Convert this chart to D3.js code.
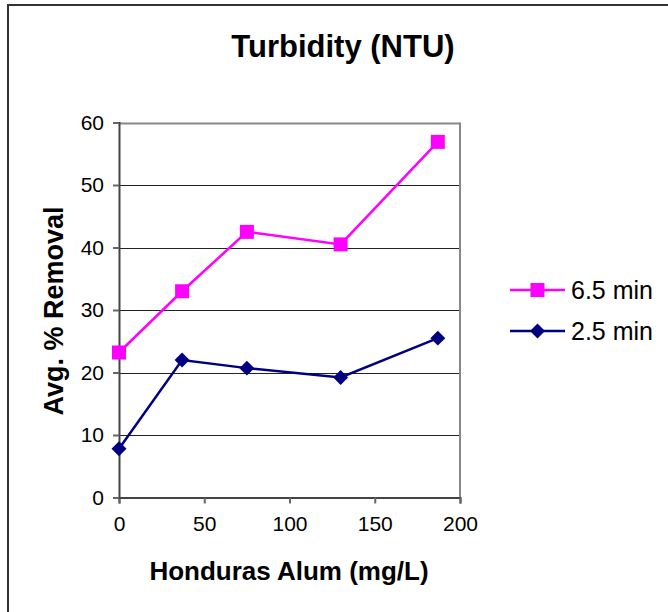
<!DOCTYPE html>
<html><head><meta charset="utf-8">
<script src="https://cdn.jsdelivr.net/npm/d3@7"></script>
<style>body{margin:0;background:#fff}svg{display:block}text{font-family:"Liberation Sans",Arimo,Arial,sans-serif}</style>
</head><body>
<script>
const doses = [0, 37, 75, 130, 187];
const series65 = [23.2, 33.0, 42.5, 40.5, 56.9];
const series25 = [7.8, 22.0, 20.7, 19.2, 25.5];
const seriesNames = ["6.5 min", "2.5 min"];
const xTicks = [0, 50, 100, 150, 200];
const yTicks = [0, 10, 20, 30, 40, 50, 60];
const title = "Turbidity (NTU)";
const xTitle = "Honduras Alum (mg/L)";
const yTitle = "Avg. % Removal";

const FONT = "'Liberation Sans', Arimo, Arial, sans-serif";
const W = 668, H = 612;
const svg = d3.select("body").append("svg").attr("width", W).attr("height", H).attr("font-family", FONT);
svg.append("rect").attr("x", 8).attr("y", 5).attr("width", W + 10).attr("height", H + 10)
  .attr("fill", "#fff").attr("stroke", "#333").attr("stroke-width", 2);

const L = 119, R = 460, T = 122.5, B = 497.5;
const x = d3.scaleLinear().domain([0, 200]).range([L, R]);
const y = d3.scaleLinear().domain([0, 60]).range([B, T]);

svg.append("g").selectAll("line").data(yTicks.filter(d => d > 0)).join("line")
  .attr("x1", L).attr("x2", R).attr("y1", d => Math.round(y(d)) + 0.5).attr("y2", d => Math.round(y(d)) + 0.5)
  .attr("stroke", d => d === 60 ? "#888" : "#222").attr("stroke-width", d => d === 60 ? 2 : 1);
svg.append("line").attr("x1", R).attr("x2", R).attr("y1", T).attr("y2", B).attr("stroke", "#888").attr("stroke-width", 2);

const xAxis = svg.append("g").attr("transform", `translate(0,${B})`)
  .call(d3.axisBottom(x).tickValues(xTicks).tickSize(6).tickPadding(9));
const yAxis = svg.append("g").attr("transform", `translate(${L},0)`)
  .call(d3.axisLeft(y).tickValues(yTicks).tickSize(6).tickPadding(9));
[xAxis, yAxis].forEach(g => {
  g.attr("font-family", FONT);
  g.select(".domain").attr("stroke", "#444").attr("stroke-width", 2);
  g.selectAll(".tick line").attr("stroke", "#666").attr("stroke-width", 2);
  g.selectAll("text").attr("font-size", 21).attr("fill", "#000");
});
xAxis.selectAll("text").attr("dy", "0.9em");

const line = d3.line().x(d => x(d[0])).y(d => y(d[1]));
const d65 = doses.map((d, i) => [d, series65[i]]);
const d25 = doses.map((d, i) => [d, series25[i]]);
const pink = "#ff00ff", navy = "#000080";

svg.append("path").datum(d65).attr("d", line).attr("fill", "none").attr("stroke", pink).attr("stroke-width", 2.5);
svg.append("path").datum(d25).attr("d", line).attr("fill", "none").attr("stroke", navy).attr("stroke-width", 2.5);

const diamondType = { draw(ctx, size) { const r = Math.sqrt(size / 2); ctx.moveTo(0, -r); ctx.lineTo(r, 0); ctx.lineTo(0, r); ctx.lineTo(-r, 0); ctx.closePath(); } };
const sq = d3.symbol().type(d3.symbolSquare).size(196);
const dia = d3.symbol().type(diamondType).size(112);
svg.append("g").selectAll("path").data(d65).join("path")
  .attr("d", sq).attr("transform", d => `translate(${x(d[0])},${y(d[1])})`).attr("fill", pink);
svg.append("g").selectAll("path").data(d25).join("path")
  .attr("d", dia).attr("transform", d => `translate(${x(d[0])},${y(d[1])})`).attr("fill", navy);

const leg = svg.append("g");
const legItems = [{name: seriesNames[0], c: pink, s: sq, yy: 290}, {name: seriesNames[1], c: navy, s: dia, yy: 331}];
legItems.forEach(it => {
  leg.append("line").attr("x1", 510).attr("x2", 565).attr("y1", it.yy).attr("y2", it.yy).attr("stroke", it.c).attr("stroke-width", 2.5);
  leg.append("path").attr("d", it.s).attr("transform", `translate(537.5,${it.yy})`).attr("fill", it.c);
  leg.append("text").attr("x", 571).attr("y", it.yy).attr("dy", "0.36em").attr("font-size", 25).text(it.name);
});

svg.append("text").attr("x", 343).attr("y", 57).attr("text-anchor", "middle")
  .attr("font-size", 31).attr("font-weight", "bold").text(title);
svg.append("text").attr("x", 289).attr("y", 580).attr("text-anchor", "middle")
  .attr("font-size", 26).attr("font-weight", "bold").text(xTitle);
svg.append("text").attr("transform", "translate(63,311) rotate(-90)").attr("text-anchor", "middle")
  .attr("font-size", 27).attr("font-weight", "bold").text(yTitle);
</script>
</body></html>
